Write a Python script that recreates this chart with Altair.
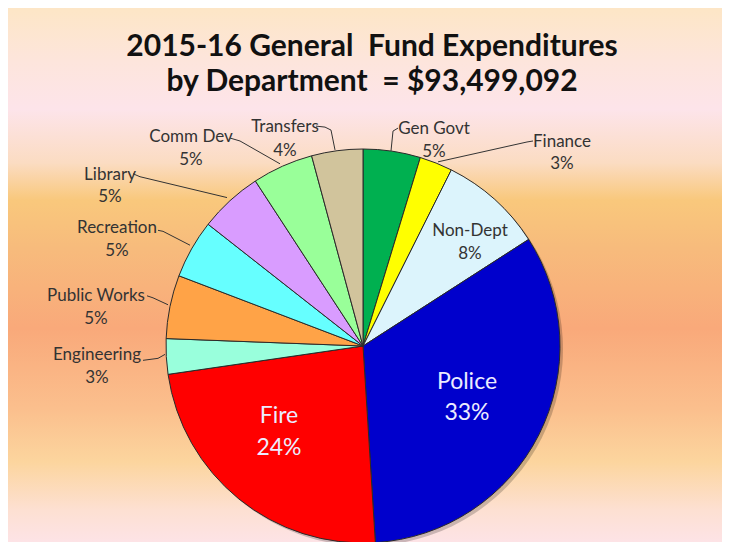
import altair as alt
import pandas as pd

# ---- data ----
departments = ["Gen Govt", "Finance", "Non-Dept", "Police", "Fire", "Engineering",
               "Public Works", "Recreation", "Library", "Comm Dev", "Transfers"]
shares = [4.7, 2.7, 8.5, 33.1, 23.7, 2.9, 5.2, 4.8, 5.2, 5.0, 4.2]
pct_labels = ["5%", "3%", "8%", "33%", "24%", "3%", "5%", "5%", "5%", "5%", "4%"]
colors = ["#00b050", "#ffff00", "#dcf4fc", "#0000cc", "#ff0000", "#99ffdc",
          "#ffa347", "#66ffff", "#d99cff", "#99ff99", "#d1c49c"]

title_lines = ["2015-16 General\u00a0 Fund Expenditures", "by Department\u00a0 = $93,499,092"]

# label layout (reference pixel coordinates of each text line's centre)
label_x = [434, 562, 470, 467, 279, 97, 96, 117, 110, 191, 285]
name_y = [127, 140, 230, 381, 415, 355, 295, 227, 173, 135, 125]
pct_y = [150, 162, 253, 412, 447, 378, 318, 250, 195, 158, 149]

# leader lines
leaders = {
    "Gen Govt": [(391, 152), (393, 132), (398, 129)],
    "Finance": [(438, 163), (527, 143), (533, 142)],
    "Engineering": [(143, 363), (158, 361), (165, 357)],
    "Public Works": [(168, 307), (153, 300), (147, 298)],
    "Recreation": [(190, 247), (163, 233), (158, 232)],
    "Library": [(227, 199), (140, 178), (133, 175)],
    "Comm Dev": [(280, 165), (240, 142), (230, 139)],
    "Transfers": [(335, 151), (331, 131), (325, 128), (316, 127)],
}

W, H = 714, 534
OX, OY = 8, 8
CX, CY, R = 363, 346, 197

df = pd.DataFrame({"dept": departments, "share": shares, "idx": range(len(departments))})

rows = []
for d, p, x, ny, py in zip(departments, pct_labels, label_x, name_y, pct_y):
    grp = "big" if d in ("Police", "Fire") else "small"
    rows.append({"dept": d, "text": d, "x": x, "y": ny, "grp": grp})
    rows.append({"dept": d, "text": p, "x": x, "y": py, "grp": grp})
lab = pd.DataFrame(rows)
small = lab[lab.grp == "small"]
big = lab[lab.grp == "big"]

lead_rows = []
for d, pts in leaders.items():
    for i, (x, y) in enumerate(pts):
        lead_rows.append({"dept": d, "o": i, "x": x, "y": y})
lead_df = pd.DataFrame(lead_rows)

title_df = pd.DataFrame({"text": title_lines, "x": [372, 372], "y": [45, 81]})

xs = alt.Scale(domain=[OX, OX + W], nice=False, zero=False)
ys = alt.Scale(domain=[OY, OY + H], nice=False, zero=False, reverse=True)
X = lambda f="x": alt.X(f"{f}:Q", scale=xs, axis=None)
Y = lambda f="y": alt.Y(f"{f}:Q", scale=ys, axis=None)

bg = alt.Chart(pd.DataFrame({"a": [0]})).mark_rect(
    fill=alt.Gradient(
        gradient="linear", x1=0, x2=0, y1=0, y2=1,
        stops=[
            alt.GradientStop(color="#fde6c6", offset=0.0),
            alt.GradientStop(color="#fde5dc", offset=0.10),
            alt.GradientStop(color="#fde4ea", offset=0.19),
            alt.GradientStop(color="#fbdcc2", offset=0.29),
            alt.GradientStop(color="#f9c87c", offset=0.36),
            alt.GradientStop(color="#f7bb7c", offset=0.45),
            alt.GradientStop(color="#f9a97a", offset=0.60),
            alt.GradientStop(color="#fbbf8d", offset=0.75),
            alt.GradientStop(color="#fcd59e", offset=0.85),
            alt.GradientStop(color="#fde0d2", offset=0.94),
            alt.GradientStop(color="#fde3e6", offset=1.0),
        ],
    )
).encode(x=alt.value(0), x2=alt.value(W), y=alt.value(0), y2=alt.value(H))

shadow = alt.Chart(df).mark_arc(outerRadius=R, fill="#000000", opacity=0.2).encode(
    theta=alt.Theta("share:Q", stack=True),
    order=alt.Order("idx:Q"),
    x=alt.value(CX - OX + 3), y=alt.value(CY - OY + 3),
)

pie = alt.Chart(df).mark_arc(outerRadius=R, stroke="#2a2a2a", strokeWidth=1).encode(
    theta=alt.Theta("share:Q", stack=True),
    order=alt.Order("idx:Q"),
    color=alt.Color("dept:N", scale=alt.Scale(domain=departments, range=colors), legend=None),
    x=alt.value(CX - OX), y=alt.value(CY - OY),
)

lines = alt.Chart(lead_df).mark_line(color="#333333", strokeWidth=1).encode(
    x=X(), y=Y(), detail="dept:N", order="o:Q"
)

txt_small = alt.Chart(small).mark_text(
    font="Lato", fontSize=17, color="#333333", align="center", baseline="middle", dy=3
).encode(x=X(), y=Y(), text="text:N")

txt_big = alt.Chart(big).mark_text(
    font="Lato", fontSize=23, color="#ececff", align="center", baseline="middle", dy=4
).encode(x=X(), y=Y(), text="text:N")

title = alt.Chart(title_df).mark_text(
    font="Lato", fontSize=30, fontWeight="bold", color="#111111",
    align="center", baseline="middle", dy=2
).encode(x=X(), y=Y(), text="text:N")

chart = alt.layer(bg, shadow, pie, lines, txt_small, txt_big, title).properties(
    width=W, height=H, padding=0,
    autosize=alt.AutoSizeParams(type="fit", contains="padding"),
).configure_view(stroke=None)

chart.save("out.html", embed_options={"renderer": "svg", "actions": False})
